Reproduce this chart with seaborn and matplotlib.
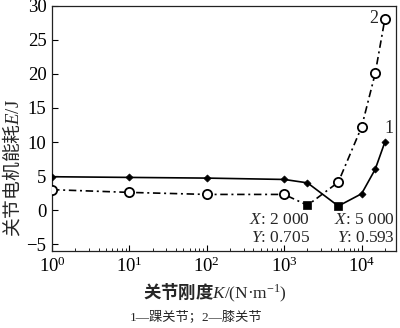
import numpy as np
import pandas as pd
import matplotlib
matplotlib.use("Agg")
import matplotlib.pyplot as plt
import seaborn as sns

# Joint stiffness K (N/m) and motor energy consumption E (J)
stiffness = [1, 10, 100, 1000, 2000, 5000, 10000, 15000, 20000]
energy_ankle = [4.9, 4.8, 4.7, 4.5, 4.0, 0.593, 2.4, 6.0, 10.0]
energy_knee = [3.0, 2.6, 2.3, 2.3, 0.705, 4.1, 12.2, 20.1, 28.1]

# Minimum points marked on each curve
min_ankle = (5000, 0.593)
min_knee = (2000, 0.705)

x_ticks = [1, 10, 100, 1000, 10000]
y_ticks = [-5, 0, 5, 10, 15, 20, 25, 30]

sns.set_theme(style="ticks")
plt.rcParams["font.family"] = ["Liberation Serif", "Noto Sans CJK SC"]
plt.rcParams["mathtext.fontset"] = "custom"
plt.rcParams["mathtext.rm"] = "Liberation Serif"
plt.rcParams["mathtext.it"] = "Liberation Serif:italic"
plt.rcParams["axes.unicode_minus"] = True

fig = plt.figure(figsize=(4.0, 3.28), dpi=100)
ax = fig.add_axes([0.13, 0.235, 0.859, 0.747])

df_a = pd.DataFrame({"K": stiffness, "E": energy_ankle})
df_k = pd.DataFrame({"K": stiffness, "E": energy_knee})

# curve 1: ankle (solid), curve 2: knee (dash-dot)
sns.lineplot(data=df_a, x="K", y="E", ax=ax, color="black", lw=1.2,
             linestyle="-", zorder=3)
sns.lineplot(data=df_k, x="K", y="E", ax=ax, color="black", lw=1.2,
             linestyle=(0, (4.5, 2.2, 1.2, 2.2)), zorder=3)

ma = df_a[df_a["K"] != min_ankle[0]]
mk = df_k[df_k["K"] != min_knee[0]]
sns.scatterplot(data=ma, x="K", y="E", ax=ax, marker="D", s=13,
                color="black", edgecolor="black", linewidth=0.5, zorder=4)
sns.scatterplot(data=mk, x="K", y="E", ax=ax, marker="o", s=44,
                facecolor="white", edgecolor="black", linewidth=1.3, zorder=4)
sns.scatterplot(x=[min_knee[0], min_ankle[0]], y=[min_knee[1], min_ankle[1]],
                ax=ax, marker="s", s=40, color="black", edgecolor="black",
                linewidth=0.5, zorder=5)

ax.set_xscale("log")
ax.set_xlim(1, 2.75e4)
ax.set_ylim(-6, 30)
ax.set_xticks(x_ticks)
ax.set_yticks(y_ticks)
ax.tick_params(axis="both", which="major", direction="in", length=4,
               width=0.8, labelsize=13.5, pad=4, colors="black")
ax.tick_params(axis="x", which="minor", direction="in", length=2.2,
               width=0.6, colors="black")
for sp in ax.spines.values():
    sp.set_visible(True)
    sp.set_linewidth(0.9)
    sp.set_color("#222222")
ax.set_xlabel("")
ax.set_ylabel("")

# value readouts at the two minima
ax.text(2150, -1.45, "$\\mathit{X}$: 2 000", ha="right", va="center",
        fontsize=12.5, family="Liberation Serif")
ax.text(2150, -4.05, "$\\mathit{Y}$: 0.705", ha="right", va="center",
        fontsize=12.5, family="Liberation Serif")
ax.text(2.68e4, -1.45, "$\\mathit{X}$: 5 000", ha="right", va="center",
        fontsize=12.5, family="Liberation Serif")
ax.text(2.68e4, -4.05, "$\\mathit{Y}$: 0.593", ha="right", va="center",
        fontsize=12.5, family="Liberation Serif")

# curve numbers
ax.text(16200, 28.2, "2", ha="right", va="center", fontsize=13,
        family="Liberation Serif")
ax.text(22300, 12.0, "1", ha="center", va="center", fontsize=13,
        family="Liberation Serif")

fig.text(0.032, 0.488, "关节电机能耗$\\mathit{E}\\mathrm{/J}$", rotation=90,
         ha="center", va="center", fontsize=13.5, family="Noto Sans CJK SC")
fig.text(0.538, 0.108,
         "关节刚度$\\mathit{K}\\mathrm{/(N\u00b7m}^{\\mathrm{-1}}\\mathrm{)}$",
         ha="center", va="center", fontsize=12.5, family="Noto Sans CJK SC",
         fontweight="bold")
fig.text(0.49, 0.034, "1\u2014踝关节；2\u2014膝关节", ha="center", va="center",
         fontsize=9.5)

fig.savefig("out.png", dpi=100)
